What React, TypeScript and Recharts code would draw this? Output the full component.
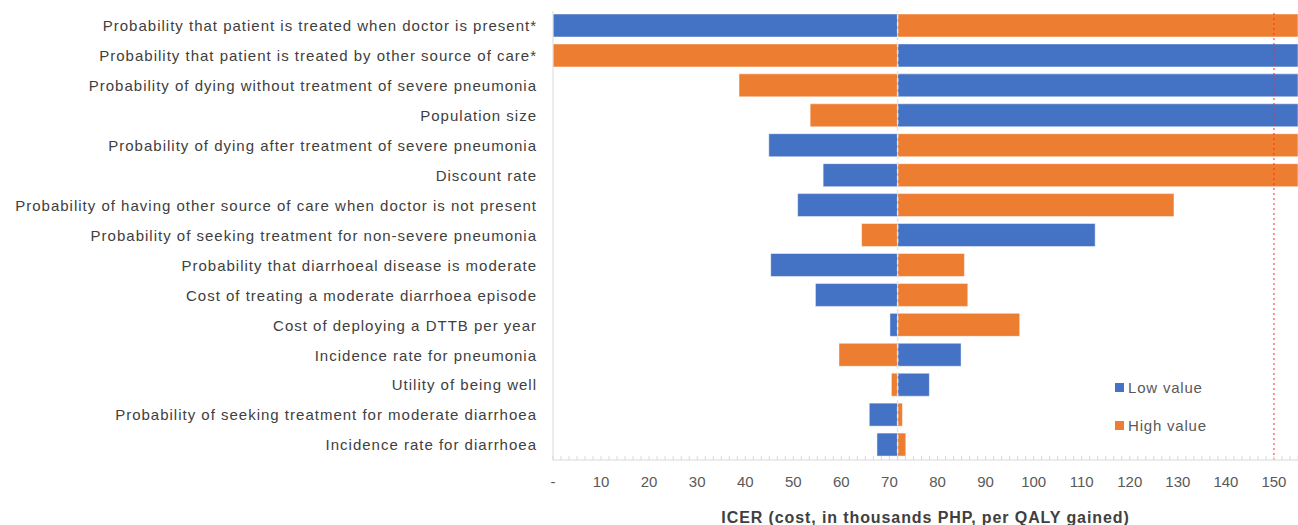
import { BarChart, Bar, XAxis, YAxis, ReferenceLine } from "recharts";

// parameters, top to bottom
const categories = [
  "Probability that patient is treated when doctor is present*",
  "Probability that patient is treated by other source of care*",
  "Probability of dying without treatment of severe pneumonia",
  "Population size",
  "Probability of dying after treatment of severe pneumonia",
  "Discount rate",
  "Probability of having other source of care when doctor is not present",
  "Probability of seeking treatment for non-severe pneumonia",
  "Probability that diarrhoeal disease is moderate",
  "Cost of treating a moderate diarrhoea episode",
  "Cost of deploying a DTTB per year",
  "Incidence rate for pneumonia",
  "Utility of being well",
  "Probability of seeking treatment for moderate diarrhoea",
  "Incidence rate for diarrhoea",
];

// ICER (thousands PHP / QALY) at the low and high end of each parameter
const lowValues = [0, 155, 155, 155, 44.9, 56.2, 50.9, 112.8, 45.3, 54.6, 70.1, 84.9, 78.3, 65.8, 67.4];
const highValues = [155, 0, 38.7, 53.5, 155, 155, 129.2, 64.2, 85.6, 86.3, 97.1, 59.5, 70.4, 72.7, 73.4];

const BASE_ICER = 71.7;
const THRESHOLD = 150;
const X_MAX = 155;

const tickValues = Array.from({ length: 94 }, (_, i) => (i * 5) / 3);

const seriesNames = ["Low value", "High value"];

const data = categories.map((name, i) => ({ name, low: lowValues[i], high: highValues[i] }));

const BLUE = "#4472C4";
const ORANGE = "#ED7D31";
const FONT = "'Liberation Sans', Arial, sans-serif";

const XTick = (props: any) => {
  const { x, y, payload } = props;
  const v = payload.value as number;
  const major = Math.abs(v / 10 - Math.round(v / 10)) < 1e-6;
  return (
    <g>
      <line x1={x} x2={x} y1={y - 4} y2={y} stroke="#d9d9d9" />
      {major && (
        <text x={x} y={y + 27} textAnchor="middle" fontSize={15} fill="#595959" fontFamily={FONT}>
          {Math.round(v) === 0 ? "-" : Math.round(v)}
        </text>
      )}
    </g>
  );
};

export default function App() {
  return (
    <div style={{ position: "absolute", left: 0, top: 0, width: 1298, height: 525 }}>
      <BarChart
        width={1298}
        height={525}
        data={data}
        layout="vertical"
        margin={{ top: 11, right: 0, left: 0, bottom: 0 }}
        barSize={23}
      >
        <XAxis
          xAxisId="top"
          orientation="top"
          type="number"
          domain={[0, X_MAX]}
          height={0}
          tick={false}
          tickLine={false}
          axisLine={{ stroke: "#e0e0e0" }}
        />
        <XAxis
          type="number"
          domain={[0, X_MAX]}
          ticks={tickValues}
          interval={0}
          height={65}
          tickSize={0}
          tickMargin={0}
          tickLine={false}
          tick={<XTick />}
          axisLine={{ stroke: "#d9d9d9" }}
          label={{
            value: "ICER (cost, in thousands PHP, per QALY gained)",
            position: "insideBottom",
            offset: 2,
            fontSize: 16,
            fontWeight: "bold",
            fill: "#404040",
            fontFamily: FONT,
            letterSpacing: 0.9,
          }}
        />
        <YAxis
          type="category"
          dataKey="name"
          width={553}
          tickSize={0}
          tickMargin={16}
          tickLine={false}
          axisLine={{ stroke: "#d9d9d9" }}
          interval={0}
          tick={{ fontSize: 15, fill: "#404040", fontFamily: FONT, letterSpacing: 1 }}
        />
        <YAxis yAxisId="b" type="category" dataKey="name" hide />
        <Bar
          name={seriesNames[0]}
          dataKey={(d: any) => [Math.min(BASE_ICER, d.low), Math.max(BASE_ICER, d.low)]}
          fill={BLUE}
          stroke="#ffffff"
          strokeOpacity={0.6}
          strokeWidth={0.8}
          isAnimationActive={false}
        />
        <Bar
          name={seriesNames[1]}
          yAxisId="b"
          dataKey={(d: any) => [Math.min(BASE_ICER, d.high), Math.max(BASE_ICER, d.high)]}
          fill={ORANGE}
          stroke="#ffffff"
          strokeOpacity={0.6}
          strokeWidth={0.8}
          isAnimationActive={false}
        />
        <ReferenceLine x={BASE_ICER} stroke="#e6e6e6" strokeWidth={1.5} strokeDasharray="4 3" />
        <ReferenceLine x={THRESHOLD} stroke="#ff2a2a" strokeWidth={1} strokeDasharray="2 3" />
      </BarChart>
      <div
        style={{
          position: "absolute",
          left: 1115,
          top: 368,
          fontFamily: FONT,
          fontSize: 15,
          color: "#595959",
          letterSpacing: 0.8,
        }}
      >
        {seriesNames.map((n, i) => (
          <div key={n} style={{ height: 38, display: "flex", alignItems: "center" }}>
            <span
              style={{
                width: 9,
                height: 9,
                background: i === 0 ? BLUE : ORANGE,
                display: "inline-block",
                marginRight: 4,
              }}
            />
            {n}
          </div>
        ))}
      </div>
    </div>
  );
}
